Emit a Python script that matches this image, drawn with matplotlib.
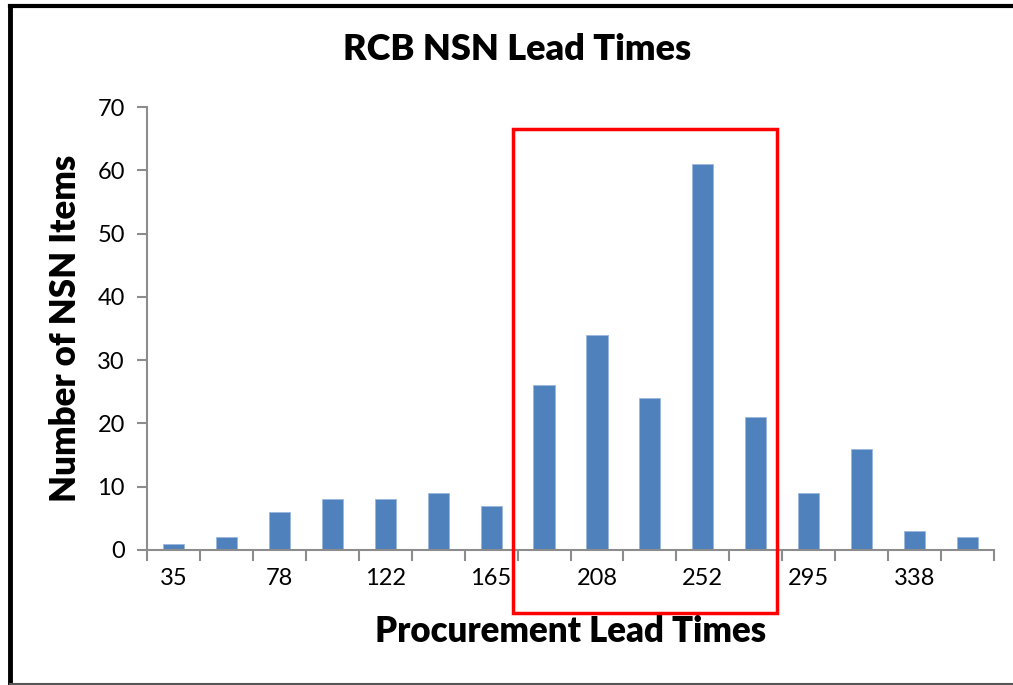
import matplotlib
matplotlib.use("Agg")
import matplotlib.pyplot as plt
from matplotlib.lines import Line2D
from matplotlib.patches import Rectangle
import numpy as np

# Data
counts = [1, 2, 6, 8, 8, 9, 7, 26, 34, 24, 61, 21, 9, 16, 3, 2]
tick_labels = ["35", "78", "122", "165", "208", "252", "295", "338"]

BAR_COLOR = "#4f81bd"
AXIS_GRAY = "#8c8c8c"

plt.rcParams["font.family"] = ["Lato", "DejaVu Sans"]

W, H = 1013, 685
fig = plt.figure(figsize=(W / 100, H / 100), dpi=100)
ax = fig.add_axes([147 / W, 1 - 550 / H, (994 - 147) / W, (550 - 107) / H])

x = np.arange(len(counts))
ax.bar(x, counts, width=0.4, color=BAR_COLOR, edgecolor="#9bb7dd", linewidth=0.6, zorder=2)

ax.set_xlim(-0.5, len(counts) - 0.5)
ax.set_ylim(0, 70)
ax.set_yticks(range(0, 71, 10))

# tick marks on category boundaries, labels on every other category
ax.set_xticks(np.arange(-0.5, len(counts), 1.0))
ax.set_xticklabels([])
ax.set_xticks(x[::2], minor=True)
ax.set_xticklabels(tick_labels, minor=True)
ax.tick_params(axis="x", which="major", length=8, width=1.5, color=AXIS_GRAY, direction="out")
ax.tick_params(axis="x", which="minor", length=0, pad=13, labelsize=17)
ax.tick_params(axis="y", length=7, width=1.5, color=AXIS_GRAY, labelsize=17, pad=9)

for side in ["top", "right"]:
    ax.spines[side].set_visible(False)
for side in ["left", "bottom"]:
    ax.spines[side].set_color(AXIS_GRAY)
    ax.spines[side].set_linewidth(1.5)

fig.text(517 / W, 1 - 50 / H, "RCB NSN Lead Times", ha="center", va="center",
         fontsize=26, fontweight="heavy")
fig.text(571 / W, 1 - 632 / H, "Procurement Lead Times", ha="center", va="center",
         fontsize=25, fontweight="heavy")
fig.text(66 / W, 1 - 328 / H, "Number of NSN Items", ha="center", va="center",
         fontsize=25, fontweight="heavy", rotation=90)

# red highlight box around the peak region
fig.patches.append(Rectangle((513 / W, 1 - 613 / H), (777 - 513) / W, (613 - 129) / H,
                             transform=fig.transFigure, fill=False,
                             edgecolor="#ff0000", linewidth=2.5, zorder=5))

# outer frame
fig.add_artist(Line2D([10 / W, 10 / W], [0, 1 - 6 / H], transform=fig.transFigure,
                      color="black", linewidth=3.5))
fig.add_artist(Line2D([10 / W, 1], [1 - 6 / H, 1 - 6 / H], transform=fig.transFigure,
                      color="black", linewidth=3))
fig.add_artist(Line2D([10 / W, 1], [1.5 / H, 1.5 / H], transform=fig.transFigure,
                      color="#555555", linewidth=1.5))

fig.savefig("out.png", dpi=100)
